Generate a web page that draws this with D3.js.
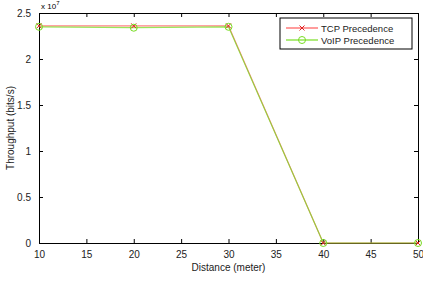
<!DOCTYPE html>
<html>
<head>
<meta charset="utf-8">
<script src="https://cdn.jsdelivr.net/npm/d3@7"></script>
<style>
  body { margin: 0; background: #fff; }
  text { font-family: "Liberation Sans", Arial, sans-serif; }
</style>
</head>
<body>
<div id="chart"></div>
<script>
const distances = [10, 20, 30, 40, 50];
const tcpThroughput = [2.36, 2.36, 2.36, 0, 0];   // x 10^7 bits/s
const voipThroughput = [2.35, 2.34, 2.35, 0, 0];
const xTicks = [10, 15, 20, 25, 30, 35, 40, 45, 50];
const yTicks = [0, 0.5, 1, 1.5, 2, 2.5];

const W = 423, H = 284;
const margin = { top: 13, right: 5, bottom: 41, left: 39 };
const width = W - margin.left - margin.right,
      height = H - margin.top - margin.bottom;

const svg = d3.select('#chart').append('svg')
    .attr('width', W)
    .attr('height', H);

const g = svg.append('g')
    .attr('transform', `translate(${margin.left},${margin.top})`);

const x = d3.scaleLinear().domain([10, 50]).range([0, width]);
const y = d3.scaleLinear().domain([0, 2.5]).range([height, 0]);

// axes, matlab style ticks pointing inward
const fmt = d => String(d);
g.append('g')
    .attr('transform', `translate(0,${height})`)
    .call(d3.axisBottom(x).tickValues(xTicks).tickSize(-4).tickPadding(8).tickFormat(fmt));
g.append('g')
    .call(d3.axisTop(x).tickValues(xTicks).tickSize(-4).tickFormat(''));
g.append('g')
    .call(d3.axisLeft(y).tickValues(yTicks).tickSize(-4).tickPadding(8).tickFormat(fmt));
g.append('g')
    .attr('transform', `translate(${width},0)`)
    .call(d3.axisRight(y).tickValues(yTicks).tickSize(-4).tickFormat(''));

g.selectAll('.domain').attr('stroke', '#000');
g.selectAll('.tick line').attr('stroke', '#000');
g.selectAll('.tick text').attr('font-size', 10).attr('fill', '#222');

// exponent label
const expo = svg.append('text')
    .attr('x', margin.left + 2)
    .attr('y', 9)
    .attr('font-size', 8);
expo.append('tspan').text('x 10');
expo.append('tspan').attr('dy', -4).attr('font-size', 6).text('7');

// axis labels
svg.append('text')
    .attr('x', margin.left + width / 2)
    .attr('y', 271)
    .attr('text-anchor', 'middle')
    .attr('font-size', 10)
    .attr('fill', '#222')
    .text('Distance (meter)');

svg.append('text')
    .attr('transform', `translate(14,${margin.top + height / 2}) rotate(-90)`)
    .attr('text-anchor', 'middle')
    .attr('font-size', 10)
    .attr('fill', '#222')
    .text('Throughput (bits/s)');

const series = [
    { name: 'TCP Precedence', values: tcpThroughput, color: '#ff5a5a', marker: 'x' },
    { name: 'VoIP Precedence', values: voipThroughput, color: '#77dd22', marker: 'o' }
];

const line = d3.line()
    .x((d, i) => x(distances[i]))
    .y(d => y(d));

series.forEach(s => {
    g.append('path')
        .datum(s.values)
        .attr('fill', 'none')
        .attr('stroke', s.color)
        .attr('stroke-opacity', 0.75)
        .attr('stroke-width', 1.2)
        .attr('d', line);
});

function drawMarker(sel, s, cx, cy) {
    if (s.marker === 'x') {
        sel.append('path')
            .attr('d', `M${cx - 2.5},${cy - 2.5}L${cx + 2.5},${cy + 2.5}M${cx - 2.5},${cy + 2.5}L${cx + 2.5},${cy - 2.5}`)
            .attr('stroke', '#dd2222')
            .attr('stroke-width', 1);
    } else {
        sel.append('circle')
            .attr('cx', cx).attr('cy', cy).attr('r', 3.5)
            .attr('fill', 'none')
            .attr('stroke', s.color)
            .attr('stroke-width', 1);
    }
}

series.forEach(s => {
    s.values.forEach((v, i) => drawMarker(g, s, x(distances[i]), y(v)));
});

// legend
const legend = svg.append('g').attr('transform', 'translate(280,18)');
legend.append('rect')
    .attr('width', 132).attr('height', 31)
    .attr('fill', '#fff').attr('stroke', '#000');
series.forEach((s, i) => {
    const ly = 10 + i * 12;
    legend.append('line')
        .attr('x1', 6).attr('x2', 38).attr('y1', ly).attr('y2', ly)
        .attr('stroke', s.color).attr('stroke-width', 1.2);
    drawMarker(legend, s, 22, ly);
    legend.append('text')
        .attr('x', 41).attr('y', ly + 3.5)
        .attr('font-size', 9.5)
        .attr('fill', '#222')
        .text(s.name);
});
</script>
</body>
</html>
